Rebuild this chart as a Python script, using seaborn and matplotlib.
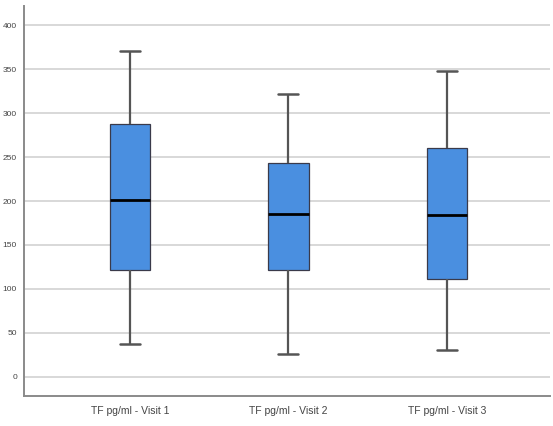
import matplotlib
matplotlib.use("Agg")
import matplotlib.pyplot as plt
import seaborn as sns
import pandas as pd

categories = ["TF pg/ml - Visit 1", "TF pg/ml - Visit 2", "TF pg/ml - Visit 3"]
# five-number summaries (min, Q1, median, Q3, max)
visit1 = [37, 122, 201, 288, 371]
visit2 = [26, 122, 185, 243, 322]
visit3 = [31, 111, 184, 260, 348]
y_ticks = [0, 50, 100, 150, 200, 250, 300, 350, 400]

rows = []
for cat, vals in zip(categories, [visit1, visit2, visit3]):
    for v in vals:
        rows.append({"visit": cat, "value": v})
df = pd.DataFrame(rows)

sns.set_theme(style="white")
plt.rcParams['font.family'] = ['Liberation Sans', 'DejaVu Sans']

fig = plt.figure(figsize=(5.53, 4.26), dpi=100)
ax = fig.add_axes([24/553, 30/426, 526/553, 390/426])

sns.boxplot(data=df, x="visit", y="value", ax=ax, width=0.255, whis=(0, 100),
            color="#4a8fe0", saturation=1, linewidth=1.4,
            boxprops=dict(facecolor="#4a8fe0", edgecolor="#3a3a4a", linewidth=0.9),
            whiskerprops=dict(color="#555555", linewidth=1.6),
            capprops=dict(color="#555555", linewidth=1.8),
            medianprops=dict(color="#000000", linewidth=2.0),
            showfliers=False, zorder=3)

ax.set_ylim(-21.6, 421.6)
ax.set_xlim(-0.667, 2.65)
ax.set_yticks(y_ticks)
ax.set_yticklabels([str(t) for t in y_ticks])
ax.yaxis.grid(True, color="#d8d8d8", linewidth=1.4, zorder=0)
ax.set_axisbelow(True)
ax.set_xlabel("")
ax.set_ylabel("")
ax.tick_params(axis="y", labelsize=6, colors="#444444", length=0, pad=5)
ax.tick_params(axis="x", labelsize=7.5, colors="#444444", length=0, pad=7)
for s in ["top", "right"]:
    ax.spines[s].set_visible(False)
for s in ["left", "bottom"]:
    ax.spines[s].set_color("#8a8a8a")
    ax.spines[s].set_linewidth(1.4)

fig.savefig("out.png", dpi=100)
